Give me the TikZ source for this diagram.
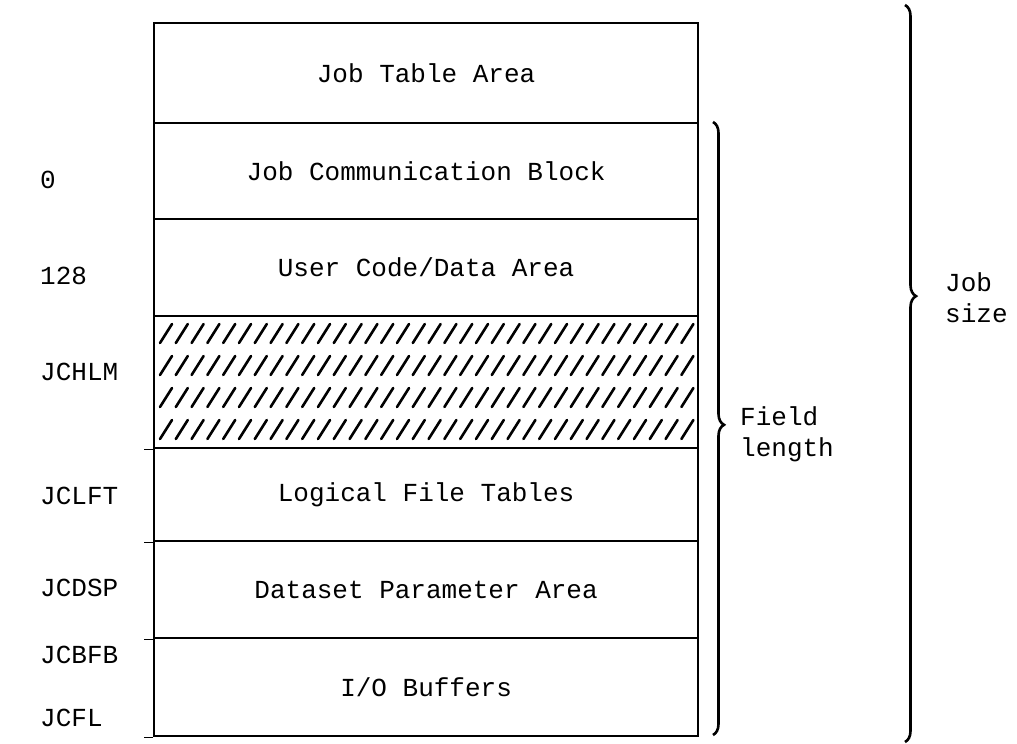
\documentclass[tikz,border=0pt]{standalone}
\usepackage{fontspec}
\newfontfamily\typewriter{Liberation Mono}
\usepackage{tikz}
\usetikzlibrary{positioning, decorations.pathreplacing}

\begin{document}
\begin{tikzpicture}[
  x=1pt, y=-1pt,
  font=\typewriter\fontsize{26}{31}\selectfont,
  row/.style={draw,line width=2.2pt,minimum width=544pt,inner sep=0pt,anchor=north west},
  addr/.style={anchor=west,inner sep=0pt},
  hatch/.style={line width=2.6pt,line cap=round},
  tick/.style={line width=1.4pt},
  bracemark/.style={decorate,decoration={brace,amplitude=11pt,aspect=#1},line width=2.6pt},
  side/.style={align=left,anchor=west,inner sep=0pt}
]
\useasboundingbox (0,0) rectangle (1017,744);

% memory rows
\node[row,minimum height=100pt] (jobtable) at (153,22) {Job Table Area};
\node[row,minimum height=96pt]  (jcb)      at (153,122) {Job Communication Block};
\node[row,minimum height=97pt]  (usercode) at (153,218) {User Code/Data Area};
\node[row,minimum height=132pt] (unused)   at (153,315) {};
\node[row,minimum height=93pt]  (lft)      at (153,447) {Logical File Tables};
\node[row,minimum height=97pt]  (dsp)      at (153,540) {Dataset Parameter Area};
\node[row,minimum height=98pt]  (buffers)  at (153,637) {I/O Buffers};

% hatching of the unused area
\foreach \r in {0,1,2,3}
  \foreach \i in {0,...,33}
    \draw[hatch] (160+\i*15.8,343+\r*32) -- ++(12,-19);

% address marks on the left edge
\foreach \b in {unused.south west,lft.south west,dsp.south west,buffers.south west}
  \draw[tick] (\b) -- ++(-9,0);

% address labels
\node[addr] (a0)    at (40,180) {0};
\node[addr] (a128)  at (40,276) {128};
\node[addr] (ahlm)  at (40,372) {JCHLM};
\node[addr] (alft)  at (40,496) {JCLFT};
\node[addr] (adsp)  at (40,588) {JCDSP};
\node[addr] (abfb)  at (40,655) {JCBFB};
\node[addr] (afl)   at (40,718) {JCFL};

% braces
\coordinate (fltop) at (713,122);
\coordinate (flbot) at (713,735);
\coordinate (jstop) at (905,5);
\coordinate (jsbot) at (905,742);
\draw[bracemark=0.494] (fltop) -- (flbot);
\draw[bracemark=0.395] (jstop) -- (jsbot);

\node[side] (fieldlength) at (740,434) {Field\\length};
\node[side] (jobsize)     at (945,298) {Job\\size};
\end{tikzpicture}
\end{document}
